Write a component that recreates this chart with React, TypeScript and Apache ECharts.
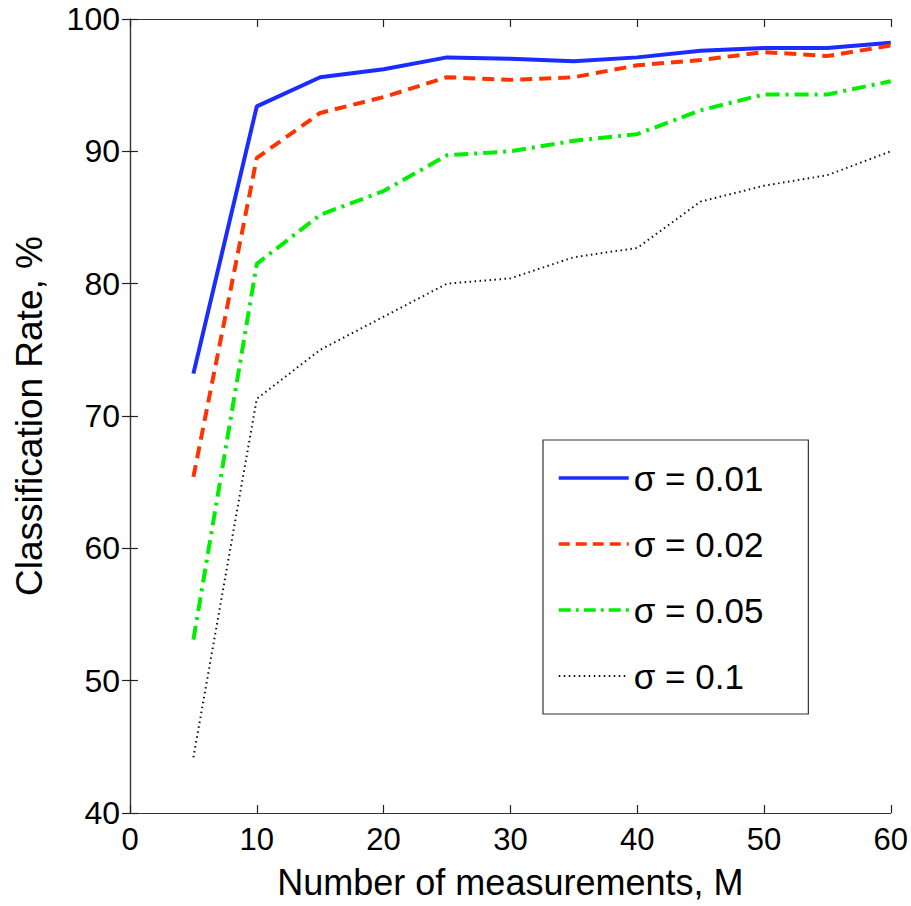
import React, { useEffect, useRef } from "react";
import * as echarts from "echarts";

const measurements = [5, 10, 15, 20, 25, 30, 35, 40, 45, 50, 55, 60];
const sigma001 = [73.2, 93.4, 95.6, 96.2, 97.1, 97.0, 96.8, 97.1, 97.6, 97.8, 97.8, 98.2];
const sigma002 = [65.4, 89.5, 92.9, 94.1, 95.6, 95.4, 95.6, 96.5, 96.9, 97.5, 97.2, 98.0];
const sigma005 = [53.1, 81.5, 85.2, 87.0, 89.7, 90.0, 90.8, 91.3, 93.1, 94.3, 94.3, 95.3];
const sigma01 = [44.2, 71.3, 75.0, 77.5, 80.0, 80.4, 82.0, 82.7, 86.2, 87.4, 88.2, 90.0];
const seriesNames = ["σ = 0.01", "σ = 0.02", "σ = 0.05", "σ = 0.1"];
const seriesColors = ["#1a2cff", "#ff3300", "#00ee00", "#111111"];

const FONT = "Liberation Sans, Arial, Helvetica, sans-serif";

export default function App() {
  const ref = useRef<HTMLDivElement>(null);
  useEffect(() => {
    if (!ref.current) return;
    const chart = echarts.init(ref.current, undefined, { renderer: "svg" });
    const pair = (ys: number[]) => measurements.map((m, i) => [m, ys[i]]);
    const axisLine = { show: true, lineStyle: { color: "#333", width: 1.2 } };
    const axisTick = { show: true, inside: true, length: 8, lineStyle: { color: "#222", width: 1.2 } };
    const lineStyles: any[] = [
      { color: seriesColors[0], width: 4, type: "solid" },
      { color: seriesColors[1], width: 4, type: [12, 7] },
      { color: seriesColors[2], width: 4, type: [14, 6, 3, 6] },
      { color: seriesColors[3], width: 2, type: [1.5, 3.5] },
    ];
    const legendLineStyles: any[] = [
      { color: seriesColors[0], width: 3.5, type: "solid" },
      { color: seriesColors[1], width: 3.5, type: [11, 6] },
      { color: seriesColors[2], width: 3.5, type: [12, 5, 3, 5] },
      { color: seriesColors[3], width: 1.8, type: [1.5, 3.5] },
    ];
    const option: any = {
      animation: false,
      backgroundColor: "#fff",
      grid: { left: 130, right: 19, top: 19, bottom: 93, containLabel: false },
      xAxis: [
        {
          type: "value",
          min: 0,
          max: 60,
          interval: 10,
          position: "bottom",
          axisLine,
          axisTick,
          splitLine: { show: false },
          axisLabel: { color: "#000", fontSize: 31, fontFamily: FONT, margin: 11 },
          name: "Number of measurements, M",
          nameLocation: "middle",
          nameGap: 51,
          nameTextStyle: { color: "#000", fontSize: 36, fontFamily: FONT },
        },
        {
          type: "value",
          min: 0,
          max: 60,
          interval: 10,
          position: "top",
          axisLine,
          axisTick,
          splitLine: { show: false },
          axisLabel: { show: false },
        },
      ],
      yAxis: [
        {
          type: "value",
          min: 40,
          max: 100,
          interval: 10,
          position: "left",
          axisLine,
          axisTick,
          splitLine: { show: false },
          axisLabel: { color: "#000", fontSize: 32, fontFamily: FONT, margin: 10 },
          name: "Classification Rate, %",
          nameLocation: "middle",
          nameGap: 82,
          nameTextStyle: { color: "#000", fontSize: 37, fontFamily: FONT },
        },
        {
          type: "value",
          min: 40,
          max: 100,
          interval: 10,
          position: "right",
          axisLine,
          axisTick,
          splitLine: { show: false },
          axisLabel: { show: false },
        },
      ],
      legend: {
        orient: "vertical",
        left: 543,
        top: 440,
        backgroundColor: "#fff",
        borderColor: "#333",
        borderWidth: 1.2,
        borderRadius: 0,
        padding: [18, 45, 18, 14],
        itemWidth: 70,
        itemHeight: 14,
        itemGap: 26,
        itemStyle: { color: "transparent", borderColor: "transparent", borderWidth: 0, opacity: 0 },
        textStyle: { color: "#000", fontSize: 35, fontFamily: FONT, lineHeight: 40 },
        data: seriesNames.map((n, i) => ({ name: n, lineStyle: legendLineStyles[i] })),
      },
      series: seriesNames.map((n, i) => ({
        name: n,
        type: "line",
        data: pair([sigma001, sigma002, sigma005, sigma01][i]),
        showSymbol: false,
        symbol: "none",
        lineStyle: lineStyles[i],
        itemStyle: { color: seriesColors[i] },
      })),
    };
    chart.setOption(option);
    return () => chart.dispose();
  }, []);
  return (
    <div
      ref={ref}
      style={{ position: "absolute", left: 0, top: 0, width: 911, height: 906 }}
    />
  );
}
